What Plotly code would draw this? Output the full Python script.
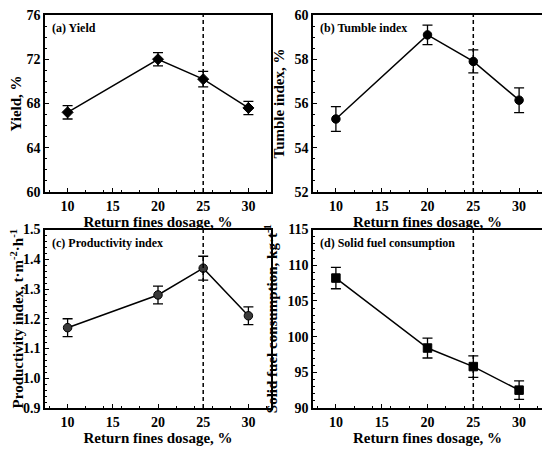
import plotly.graph_objects as go

# Return fines dosage, %
dosage = [10, 20, 25, 30]

yield_pct = [67.2, 72.0, 70.2, 67.6]
yield_err = [0.6, 0.6, 0.7, 0.6]

tumble = [55.3, 59.1, 57.9, 56.15]
tumble_err = [0.56, 0.44, 0.52, 0.56]

productivity = [1.17, 1.28, 1.37, 1.21]
productivity_err = [0.03, 0.03, 0.04, 0.03]

fuel = [108.2, 98.4, 95.8, 92.5]
fuel_err = [1.5, 1.4, 1.5, 1.3]

FONT = "Liberation Serif"
W, H = 550, 449
OFF = 8  # page body margin


def xd(a, b):
    return [(a - OFF) / W, (b - OFF) / W]


def yd(top, bottom):
    return [1 - (bottom - OFF) / H, 1 - (top - OFF) / H]


panels = [
    dict(y=yield_pct, err=yield_err, symbol="diamond", color="black",
         label="(a) Yield", ytitle="Yield, %", yrange=[60, 76], dtick=4, fmt="d",
         xdom=xd(45, 271), ydom=yd(15, 192)),
    dict(y=tumble, err=tumble_err, symbol="circle", color="black",
         label="(b) Tumble index", ytitle="Tumble index, %", yrange=[52, 60], dtick=2, fmt="d",
         xdom=xd(313, 542), ydom=yd(15, 192)),
    dict(y=productivity, err=productivity_err, symbol="circle", color="#3a3a3a",
         label="(c) Productivity index",
         ytitle="Productivity index, t·m<sup>-2</sup>·h<sup>-1</sup>",
         yrange=[0.9, 1.5], dtick=0.1, fmt=".1f",
         xdom=xd(45, 271), ydom=yd(229.5, 408)),
    dict(y=fuel, err=fuel_err, symbol="square", color="black",
         label="(d) Solid fuel consumption",
         ytitle="Solid fuel consumption, kg·t<sup>-1</sup>",
         yrange=[90, 115], dtick=5, fmt="d",
         xdom=xd(313, 542), ydom=yd(229.5, 408)),
]

fig = go.Figure()
layout = {}
shapes = []
annotations = []

for i, p in enumerate(panels, start=1):
    xa = "x" if i == 1 else f"x{i}"
    ya = "y" if i == 1 else f"y{i}"
    fig.add_trace(go.Scatter(
        x=dosage, y=p["y"], xaxis=xa, yaxis=ya,
        mode="lines+markers",
        line=dict(color="black", width=1.5),
        marker=dict(symbol=p["symbol"], size=8.5, color=p["color"],
                    line=dict(color="black", width=1)),
        error_y=dict(type="data", array=p["err"], visible=True,
                     color="black", thickness=1.3, width=5),
        showlegend=False,
    ))
    axis_common = dict(
        showline=True, mirror=True, linecolor="black", linewidth=1.5,
        ticks="inside", ticklen=4, tickwidth=1.2, tickcolor="black",
        showgrid=False, zeroline=False, ticklabeloverflow="allow",
        tickfont=dict(family=FONT, size=14, color="black", weight="bold"),
        minor=dict(ticks="inside", ticklen=2, tickwidth=1, tickcolor="black"),
    )
    layout[f"xaxis{'' if i == 1 else i}"] = dict(
        axis_common, domain=p["xdom"], anchor=ya, range=[7.5, 32.5],
        tickvals=[10, 15, 20, 25, 30],
        title=dict(text="Return fines dosage, %", standoff=0,
                   font=dict(family=FONT, size=15, color="black", weight="bold")),
    )
    layout[f"yaxis{'' if i == 1 else i}"] = dict(
        axis_common, domain=p["ydom"], anchor=xa, range=p["yrange"],
        dtick=p["dtick"], tickformat=p["fmt"],
        title=dict(text=p["ytitle"], standoff=6,
                   font=dict(family=FONT, size=15, color="black", weight="bold")),
    )
    shapes.append(dict(type="line", xref=xa, yref=f"{ya} domain",
                       x0=25, x1=25, y0=0, y1=1,
                       line=dict(color="black", width=1.5, dash="4px,3px")))
    annotations.append(dict(text=p["label"], xref=f"{xa} domain", yref=f"{ya} domain",
                            x=0.02, y=0.975, xanchor="left", yanchor="top",
                            showarrow=False,
                            font=dict(family=FONT, size=12, color="black", weight="bold")))

fig.update_layout(**layout)
fig.update_layout(
    width=W, height=H,
    margin=dict(l=0, r=0, t=0, b=0, autoexpand=False),
    plot_bgcolor="white", paper_bgcolor="white",
    shapes=shapes, annotations=annotations,
)

fig.write_html("out.html")
